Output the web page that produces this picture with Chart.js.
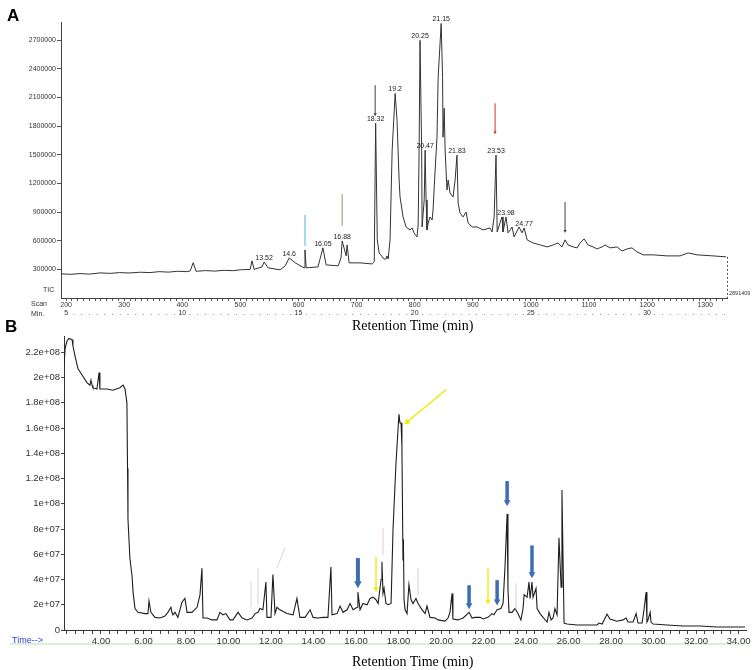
<!DOCTYPE html>
<html>
<head>
<meta charset="utf-8">
<script src="https://cdn.jsdelivr.net/npm/chart.js@4.4.1/dist/chart.umd.min.js"></script>
<style>
  body { margin: 0; background: #fff; width: 753px; height: 670px; position: relative; overflow: hidden; font-family: "Liberation Sans", Arial, sans-serif; }
  canvas { position: absolute; left: 0; }
  #chartA { top: 0; }
  #chartB { top: 330px; }
  .panel { position: absolute; font-weight: bold; font-size: 17px; line-height: 17px; }
  .xtitle { position: absolute; left: 352px; font-family: "Liberation Serif", "Times New Roman", serif; font-size: 14px; line-height: 16px; white-space: nowrap; }
</style>
</head>
<body>
<canvas id="chartA" width="753" height="330"></canvas>
<canvas id="chartB" width="753" height="340"></canvas>
<div class="panel" style="left:7px; top:7px;">A</div>
<div class="panel" style="left:5px; top:318px;">B</div>
<div class="xtitle" style="top:318px;">Retention Time (min)</div>
<div class="xtitle" style="top:654px;">Retention Time (min)</div>
<script>
// ---- panel A : TIC, time in minutes (scan = min * 40) ----
var aTime = [4.78, 5.2, 5.6, 6.0, 6.46, 6.9, 7.3, 7.7, 8.2, 8.61, 9.0, 9.4, 9.8, 10.2, 10.34, 10.47, 10.59, 11.0, 11.4, 11.8, 12.2, 12.49,
  12.92, 13.0, 13.09, 13.43, 13.52, 13.69, 14.21, 14.43, 14.60, 14.86, 15.16, 15.24, 15.28, 15.33, 15.84, 16.05, 16.19, 16.71, 16.83,
  16.88, 17.05, 17.09, 17.18, 17.65, 18.17, 18.26, 18.32, 18.39, 18.47, 18.68, 18.77, 18.81, 18.86, 18.94, 19.03, 19.16, 19.24, 19.33,
  19.37, 19.50, 19.63, 19.80, 19.89, 19.97, 20.10, 20.15, 20.19, 20.23, 20.30, 20.32, 20.41, 20.45, 20.49, 20.53, 20.58, 20.66, 20.75,
  20.79, 20.88, 20.96, 21.01, 21.14, 21.20, 21.22, 21.27, 21.31, 21.39, 21.44, 21.52, 21.65, 21.74, 21.82, 21.87, 21.95, 22.08, 22.21,
  22.30, 22.47, 22.69, 22.94, 23.24, 23.33, 23.42, 23.50, 23.55, 23.67, 23.76, 23.80, 23.93, 24.02, 24.19, 24.28, 24.49, 24.62, 24.71,
  24.84, 25.09, 25.40, 25.70, 25.96, 26.17, 26.34, 26.47, 26.60, 26.82, 26.99, 27.12, 27.29, 27.46, 27.68, 27.85, 28.06, 28.19, 28.41,
  28.71, 28.92, 29.14, 29.35, 29.57, 29.83, 30.26, 30.86, 31.42, 31.77, 32.15, 32.84, 33.40];
var aIntensity = [253000, 248000, 256000, 250000, 263000, 258000, 266000, 262000, 270000, 266000, 276000, 271000, 280000, 276000, 284000, 370000, 280000, 287000, 282000, 290000, 286000, 295000,
  300000, 389000, 300000, 326000, 378000, 316000, 295000, 337000, 420000, 368000, 326000, 316000, 504000, 316000, 326000, 525000, 347000, 337000, 420000,
  598000, 441000, 556000, 368000, 368000, 357000, 378000, 1831000, 609000, 472000, 409000, 409000, 441000, 409000, 609000, 1549000, 2143000, 1863000, 1236000,
  1058000, 849000, 744000, 713000, 734000, 682000, 640000, 765000, 1549000, 2699000, 1549000, 744000, 1028000, 1549000, 1028000, 713000, 786000, 849000, 817000,
  922000, 1340000, 1685000, 2312000, 2876000, 2312000, 1685000, 1988000, 1549000, 1131000, 1236000, 1100000, 1058000, 1236000, 1497000, 995000, 891000, 849000, 901000,
  786000, 744000, 744000, 713000, 734000, 692000, 849000, 1497000, 692000, 786000, 849000, 692000, 849000, 682000, 744000, 640000, 744000, 682000, 734000,
  609000, 577000, 556000, 535000, 556000, 577000, 535000, 609000, 556000, 535000, 525000, 577000, 619000, 556000, 535000, 514000, 535000, 556000, 525000,
  535000, 493000, 514000, 525000, 483000, 452000, 452000, 441000, 441000, 472000, 452000, 441000, 431000];
var aYTicks = [300000, 600000, 900000, 1200000, 1500000, 1800000, 2100000, 2400000, 2700000];
var aMaxIntensity = 2891409;
var aPeakAt = [13.52, 14.60, 16.05, 16.88, 18.32, 19.16, 20.23, 20.45, 21.14, 21.82, 23.50, 23.93, 24.71];
var aPeakText = ['13.52', '14.6', '16.05', '16.88', '18.32', '19.2', '20.25', '20.47', '21.15', '21.83', '23.53', '23.98', '24.77'];
// marker lines: time, from, to, colour, arrow head
var aMarks = [
  [15.28, 870000, 546000, '#4fb3d9', 0],
  [16.88, 1089000, 755000, '#8c9c60', 0],
  [18.30, 2229000, 1904000, '#444444', 3],
  [23.46, 2040000, 1716000, '#d0342c', 3],
  [26.47, 1006000, 682000, '#444444', 3]
];

// ---- panel B ----
var bTime = [2.26, 2.31, 2.40, 2.49, 2.64, 2.68, 2.78, 2.92, 3.11, 3.34, 3.48, 3.53, 3.58, 3.62, 3.81, 3.91, 3.95, 4.28, 4.56, 4.89,
  5.04, 5.13, 5.22, 5.25, 5.27, 5.36, 5.46, 5.51, 5.60, 5.74, 6.07, 6.21, 6.26, 6.35, 6.54, 6.78, 7.01, 7.15, 7.29, 7.34, 7.39, 7.48,
  7.62, 7.81, 7.95, 8.05, 8.28, 8.52, 8.66, 8.75, 8.80, 8.99, 9.22, 9.46, 9.60, 9.74, 9.88, 10.07, 10.21, 10.45, 10.64, 10.87, 11.11,
  11.25, 11.39, 11.48, 11.62, 11.76, 11.81, 12.00, 12.09, 12.19, 12.28, 12.42, 12.75, 13.04, 13.22, 13.36, 13.60, 13.84, 13.98, 14.21,
  14.45, 14.68, 14.82, 14.87, 15.11, 15.25, 15.39, 15.58, 15.72, 15.86, 16.05, 16.09, 16.19, 16.33, 16.52, 16.66, 16.80, 16.94, 17.04,
  17.18, 17.22, 17.27, 17.32, 17.41, 17.51, 17.65, 17.74, 17.88, 18.02, 18.07, 18.12, 18.16, 18.21, 18.23, 18.26, 18.31, 18.40, 18.49,
  18.59, 18.68, 18.82, 18.92, 19.11, 19.25, 19.34, 19.48, 19.72, 19.86, 20.19, 20.33, 20.42, 20.52, 20.56, 20.80, 21.04, 21.32, 21.46,
  21.60, 21.84, 21.98, 22.21, 22.40, 22.49, 22.64, 22.82, 22.92, 23.01, 23.11, 23.15, 23.20, 23.34, 23.48, 23.62, 23.76, 23.86, 23.91,
  24.05, 24.14, 24.19, 24.28, 24.33, 24.47, 24.52, 24.66, 24.80, 24.99, 25.08, 25.18, 25.27, 25.36, 25.46, 25.55, 25.65, 25.69, 25.79,
  25.93, 26.40, 26.87, 27.34, 27.44, 27.58, 27.72, 27.81, 27.95, 28.28, 28.56, 28.71, 28.80, 29.04, 29.18, 29.27, 29.46, 29.55, 29.65,
  29.69, 29.74, 29.84, 29.88, 29.98, 30.64, 31.39, 32.19, 32.99, 33.74, 34.31];
var bAbundance = [209e6, 223e6, 229e6, 231e6, 230e6, 225e6, 217e6, 207e6, 202e6, 196e6, 194e6, 198e6, 194e6, 192e6, 191e6, 204e6, 191e6, 191e6, 190e6, 192e6,
  194e6, 191e6, 180e6, 128e6, 88e6, 57e6, 43e6, 30e6, 17e6, 14e6, 13e6, 13e6, 23e6, 14e6, 10e6, 9.5e6, 11e6, 14e6, 18e6, 14e6, 12e6, 14e6,
  10e6, 22e6, 25e6, 14e6, 14e6, 18e6, 28e6, 49e6, 9.5e6, 9.5e6, 8e6, 8e6, 14e6, 12e6, 13e6, 8e6, 8e6, 14e6, 9.5e6, 8e6, 9.5e6,
  13e6, 14e6, 17e6, 16e6, 38e6, 10e6, 10e6, 44e6, 13e6, 18e6, 16e6, 13e6, 12e6, 25e6, 10e6, 10e6, 16e6, 10e6, 9.5e6,
  10e6, 10e6, 50e6, 12e6, 13e6, 19e6, 14e6, 16e6, 21e6, 16e6, 18e6, 30e6, 16e6, 21e6, 20e6, 25e6, 26e6, 24e6, 21e6,
  40e6, 54e6, 29e6, 33e6, 21e6, 20e6, 21e6, 79e6, 132e6, 171e6, 164e6, 164e6, 145e6, 55e6, 72e6, 24e6, 16e6, 13e6, 36e6,
  24e6, 21e6, 25e6, 21e6, 16e6, 13e6, 19e6, 10e6, 9.5e6, 8e6, 7e6, 9.5e6, 14e6, 29e6, 8.7e6, 8e6, 9.5e6, 14e6, 9.5e6,
  10e6, 10e6, 8.7e6, 10e6, 13e6, 12e6, 16e6, 17e6, 21e6, 50e6, 92e6, 32e6, 14e6, 14e6, 17e6, 13e6, 8e6, 17e6, 28e6,
  26e6, 38e6, 25e6, 38e6, 26e6, 33e6, 17e6, 13e6, 10e6, 6.3e6, 14e6, 8e6, 9.5e6, 17e6, 12e6, 73e6, 34e6, 111e6, 5.5e6,
  4.7e6, 4e6, 4e6, 4e6, 5.5e6, 4.7e6, 9.5e6, 12.6e6, 8.7e6, 7e6, 8e6, 9.5e6, 6.3e6, 6.3e6, 13e6, 5.5e6, 5.5e6, 16e6, 30e6,
  6.3e6, 8e6, 14e6, 6.3e6, 4.7e6, 4e6, 3.2e6, 3.2e6, 2.4e6, 2.4e6, 2.4e6];
var bYTicks = [0, 2e7, 4e7, 6e7, 8e7, 1e8, 1.2e8, 1.4e8, 1.6e8, 1.8e8, 2e8, 2.2e8];
var bXLabels = [4, 6, 8, 10, 12, 14, 16, 18, 20, 22, 24, 26, 28, 30, 32, 34];
// arrows: t1, v1, t2, v2, colour, width, head
var bArrows = [
  [20.24, 190.5e6, 18.26, 162.8e6, '#eded1f', 1.5, 6],
  [16.09, 57e6, 16.09, 33e6, '#3e6db4', 4, 7],
  [21.32, 35.5e6, 21.32, 16.5e6, '#3e6db4', 3.5, 6],
  [22.64, 39.5e6, 22.64, 19.5e6, '#3e6db4', 3.5, 6],
  [23.11, 118e6, 23.11, 98e6, '#3e6db4', 3.5, 6],
  [24.28, 67e6, 24.28, 41e6, '#3e6db4', 3.5, 6],
  [16.94, 58e6, 16.94, 30e6, '#eded1f', 1.5, 5],
  [22.21, 49e6, 22.21, 20e6, '#eded1f', 1.5, 5],
  [11.06, 38e6, 11.06, 18e6, 'rgba(200,195,195,0.7)', 1, 0],
  [11.39, 49e6, 11.39, 20e6, 'rgba(200,195,195,0.7)', 1, 0],
  [12.66, 65.6e6, 12.28, 49e6, 'rgba(200,195,195,0.7)', 1, 0],
  [17.27, 80.6e6, 17.27, 59.3e6, 'rgba(215,190,190,0.8)', 1, 0],
  [18.92, 49e6, 18.92, 27.7e6, 'rgba(215,190,190,0.8)', 1, 0],
  [23.53, 37e6, 23.53, 16e6, 'rgba(215,190,190,0.8)', 1, 0]
];

var FONT = '"Liberation Sans", Arial, sans-serif';
Chart.defaults.font.family = FONT;

function points(xs, ys) {
  var out = [];
  for (var i = 0; i < xs.length; i++) out.push({ x: xs[i], y: ys[i] });
  return out;
}

function arrow(ctx, x1, y1, x2, y2, color, width, head) {
  var ang = Math.atan2(y2 - y1, x2 - x1);
  var ex = x2, ey = y2;
  if (head) { ex = x2 - Math.cos(ang) * head * 0.7; ey = y2 - Math.sin(ang) * head * 0.7; }
  ctx.save();
  ctx.strokeStyle = color; ctx.fillStyle = color; ctx.lineWidth = width;
  ctx.beginPath(); ctx.moveTo(x1, y1); ctx.lineTo(ex, ey); ctx.stroke();
  if (head) {
    var hw = Math.max(head * 0.55, width * 0.9);
    ctx.beginPath();
    ctx.moveTo(x2, y2);
    ctx.lineTo(x2 - Math.cos(ang) * head - Math.sin(ang) * hw, y2 - Math.sin(ang) * head + Math.cos(ang) * hw);
    ctx.lineTo(x2 - Math.cos(ang) * head + Math.sin(ang) * hw, y2 - Math.sin(ang) * head - Math.cos(ang) * hw);
    ctx.closePath(); ctx.fill();
  }
  ctx.restore();
}

function fitWidth(w) { return function (axis) { axis.width = w; }; }
function fitHeight(h) { return function (axis) { axis.height = h; }; }

// tick positions for panel A
var scanTicks = [];
for (var s = 200; s <= 1330; s += 10) scanTicks.push(s / 40);
var minTicks = [];
for (var k = 0; 5 + k / 3 <= 33.4; k++) minTicks.push(5 + k / 3);

var annotA = {
  id: 'annotA',
  afterDraw: function (chart) {
    var ctx = chart.ctx, xs = chart.scales.x, ys = chart.scales.y, area = chart.chartArea;
    ctx.save();
    ctx.font = '7px ' + FONT;
    ctx.fillStyle = '#222';
    ctx.textAlign = 'center';
    ctx.textBaseline = 'alphabetic';
    for (var i = 0; i < aPeakAt.length; i++) {
      var top = 0;
      for (var j = 0; j < aTime.length; j++) {
        if (Math.abs(aTime[j] - aPeakAt[i]) < 0.06 && aIntensity[j] > top) top = aIntensity[j];
      }
      ctx.fillText(aPeakText[i], xs.getPixelForValue(aPeakAt[i]), ys.getPixelForValue(top) - 2);
    }
    for (i = 0; i < aMarks.length; i++) {
      var m = aMarks[i], px = xs.getPixelForValue(m[0]);
      arrow(ctx, px, ys.getPixelForValue(m[1]), px, ys.getPixelForValue(m[2]), m[3], 1, m[4]);
    }
    // dashed end line and full-scale value
    var last = aIntensity[aIntensity.length - 1];
    ctx.strokeStyle = '#555'; ctx.lineWidth = 1; ctx.setLineDash([2, 2]);
    ctx.beginPath();
    ctx.moveTo(area.right + 0.5, ys.getPixelForValue(last));
    ctx.lineTo(area.right + 0.5, area.bottom);
    ctx.stroke();
    ctx.setLineDash([]);
    ctx.fillStyle = '#333';
    ctx.font = '5.5px ' + FONT;
    ctx.textAlign = 'left'; ctx.textBaseline = 'middle';
    ctx.fillText(String(aMaxIntensity), area.right + 2, area.bottom - 5);
    ctx.font = '7px ' + FONT;
    ctx.fillText('TIC', 43, area.bottom - 8);
    ctx.fillText('Scan', 31, area.bottom + 6);
    ctx.fillText('Min.', 31, area.bottom + 16);
    ctx.restore();
  }
};

new Chart(document.getElementById('chartA'), {
  type: 'scatter',
  data: {
    datasets: [{
      data: points(aTime, aIntensity),
      showLine: true,
      borderColor: '#333',
      borderWidth: 1,
      pointRadius: 0,
      tension: 0
    }]
  },
  options: {
    responsive: false,
    animation: false,
    layout: { padding: { top: 22, right: 26, bottom: 10, left: 0 }, autoPadding: false },
    plugins: { legend: { display: false }, tooltip: { enabled: false } },
    scales: {
      x: {
        type: 'linear', position: 'bottom', weight: 0,
        min: 4.78, max: 33.44,
        afterBuildTicks: function (axis) { axis.ticks = scanTicks.map(function (v) { return { value: v }; }); },
        afterFit: fitHeight(10),
        grid: { drawOnChartArea: false, tickLength: 3, color: '#555' },
        border: { color: '#444' },
        ticks: {
          autoSkip: false, maxRotation: 0, padding: 0, color: '#333', font: { size: 7 },
          callback: function (v) { var sc = Math.round(v * 40); return sc % 100 === 0 ? String(sc) : ''; }
        }
      },
      x2: {
        type: 'linear', axis: 'x', position: 'bottom', weight: 1,
        min: 4.78, max: 33.44,
        afterBuildTicks: function (axis) { axis.ticks = minTicks.map(function (v) { return { value: v }; }); },
        afterFit: fitHeight(12),
        grid: { display: false, drawTicks: false, tickLength: 0 },
        border: { display: false },
        ticks: {
          autoSkip: false, maxRotation: 0, padding: 1, color: '#333', font: { size: 7 },
          callback: function (v) {
            var r = Math.round(v);
            return (Math.abs(v - r) < 1e-6 && r % 5 === 0) ? String(r) : '.';
          }
        }
      },
      y: {
        type: 'linear', min: 0, max: aMaxIntensity,
        afterBuildTicks: function (axis) { axis.ticks = aYTicks.map(function (v) { return { value: v }; }); },
        afterFit: fitWidth(61),
        grid: { drawOnChartArea: false, tickLength: 4, color: '#555' },
        border: { color: '#444' },
        ticks: { padding: 1, color: '#333', font: { size: 7 }, callback: function (v) { return String(v); } }
      }
    }
  },
  plugins: [annotA]
});

// ---- panel B ----
function sci(v) {
  if (v === 0) return '0';
  var p = Number(v.toPrecision(3)).toExponential().split('e');
  var e = p[1];
  return p[0] + 'e' + e.charAt(0) + (e.length < 3 ? '0' : '') + e.slice(1);
}

var bTicks = [];
for (var q = 0; q <= 80; q++) {
  var tv = Math.round((2.4 + q * 0.4) * 10) / 10;
  if (tv <= 34.35) bTicks.push(tv);
}

var annotB = {
  id: 'annotB',
  beforeDraw: function (chart) {
    var ctx = chart.ctx, area = chart.chartArea;
    ctx.save();
    ctx.strokeStyle = '#c9ecc9'; ctx.lineWidth = 1.5;
    ctx.beginPath(); ctx.moveTo(10, area.bottom + 14); ctx.lineTo(745, area.bottom + 14); ctx.stroke();
    ctx.restore();
  },
  afterDraw: function (chart) {
    var ctx = chart.ctx, xs = chart.scales.x, ys = chart.scales.y, area = chart.chartArea;
    for (var i = 0; i < bArrows.length; i++) {
      var a = bArrows[i];
      arrow(ctx, xs.getPixelForValue(a[0]), ys.getPixelForValue(a[1]), xs.getPixelForValue(a[2]), ys.getPixelForValue(a[3]), a[4], a[5], a[6]);
    }
    ctx.save();
    ctx.fillStyle = '#2b3fd6';
    ctx.font = '9px ' + FONT;
    ctx.textAlign = 'left'; ctx.textBaseline = 'middle';
    ctx.fillText('Time-->', 12, area.bottom + 11);
    ctx.restore();
  }
};

new Chart(document.getElementById('chartB'), {
  type: 'scatter',
  data: {
    datasets: [{
      data: points(bTime, bAbundance),
      showLine: true,
      borderColor: '#1e1e1e',
      borderWidth: 1.1,
      pointRadius: 0,
      tension: 0
    }]
  },
  options: {
    responsive: false,
    animation: false,
    layout: { padding: { top: 6, right: 7, bottom: 0, left: 0 }, autoPadding: false },
    plugins: { legend: { display: false }, tooltip: { enabled: false } },
    scales: {
      x: {
        type: 'linear', position: 'bottom',
        min: 2.26, max: 34.35,
        afterBuildTicks: function (axis) { axis.ticks = bTicks.map(function (v) { return { value: v }; }); },
        afterFit: fitHeight(40),
        grid: { drawOnChartArea: false, tickLength: 4, color: '#444' },
        border: { color: '#333' },
        ticks: {
          autoSkip: false, maxRotation: 0, padding: 2, color: '#333', font: { size: 9.5 },
          callback: function (v) {
            for (var i = 0; i < bXLabels.length; i++) if (Math.abs(bXLabels[i] - v) < 1e-6) return v.toFixed(2);
            return '';
          }
        }
      },
      y: {
        type: 'linear', min: 0, max: 2.324e8,
        afterBuildTicks: function (axis) { axis.ticks = bYTicks.map(function (v) { return { value: v }; }); },
        afterFit: fitWidth(64),
        grid: { drawOnChartArea: false, tickLength: 3, color: '#444' },
        border: { color: '#333' },
        ticks: { padding: 1, color: '#333', font: { size: 9.5 }, callback: function (v) { return sci(v); } }
      }
    }
  },
  plugins: [annotB]
});
</script>
</body>
</html>
